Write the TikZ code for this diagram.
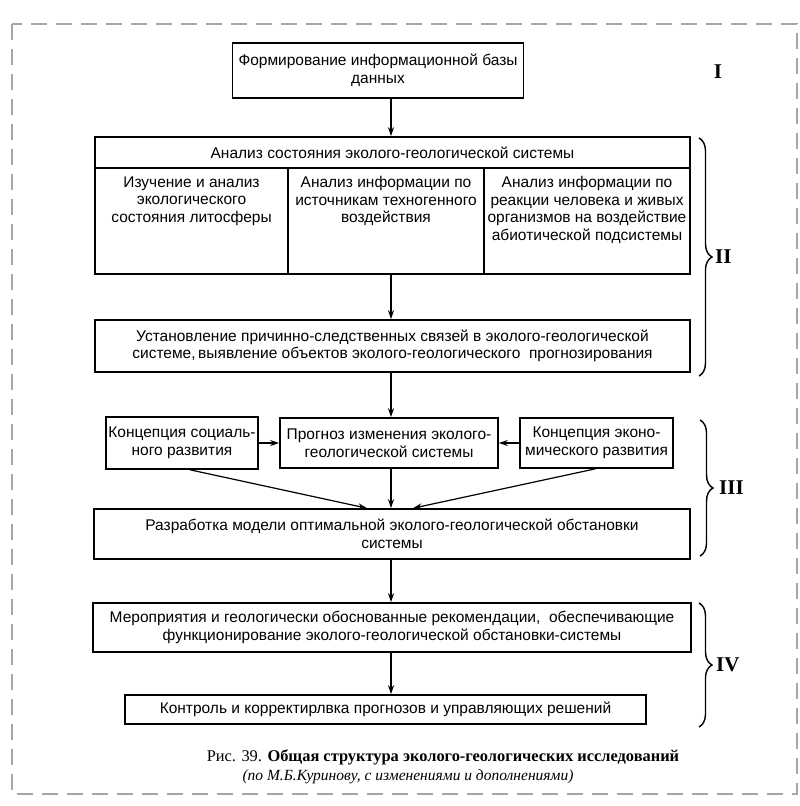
\documentclass[tikz,border=0pt]{standalone}
\usepackage{fontspec}
\setmainfont{Liberation Serif}
\setsansfont{Liberation Sans}
\usetikzlibrary{arrows.meta,decorations.pathreplacing}
\begin{document}
\begin{tikzpicture}[x=1pt,y=-1pt,
  txt/.style={font=\sffamily\fontsize{15.5}{17.5}\selectfont},
  box/.style={draw,line width=1.6pt,align=center,txt,inner sep=0pt},
  cell/.style={draw,line width=1.6pt,inner sep=0pt},
  celltxt/.style={align=center,txt,anchor=north,inner sep=0pt},
  arr/.style={line width=1.2pt,-{Stealth[length=9pt,width=6pt]}},
  brc/.style={decorate,decoration={brace,amplitude=13pt},line width=1.4pt},
  roman/.style={font=\rmfamily\bfseries\fontsize{21}{24}\selectfont,inner sep=0pt},
  frame/.style={draw=black!35,line width=2.2pt,dash pattern=on 16pt off 9pt}]
\useasboundingbox (0,0) rectangle (800,806);
\path[frame] (12,24) rectangle (797,794);

\coordinate (col) at (391,0);

\node[box,minimum width=291pt,minimum height=55pt] (I) at (378,70.5)
  {Формирование информационной базы\\данных};
\node[roman] (lI) at (718,72) {I};

\node[box,minimum width=595pt,minimum height=31pt] (anal) at (392.5,152.5)
  {Анализ состояния эколого-геологической системы};
\node[cell,minimum width=193pt,minimum height=106pt] (c1) at (191.5,221) {};
\node[cell,minimum width=196pt,minimum height=106pt] (c2) at (386,221) {};
\node[cell,minimum width=206pt,minimum height=106pt] (c3) at (587,221) {};
\node[celltxt] (t1) at ([yshift=-9pt]c1.north) {Изучение и анализ\\экологического\\состояния литосферы};
\node[celltxt] (t2) at ([yshift=-9pt]c2.north) {Анализ информации по\\источникам техногенного\\воздействия};
\node[celltxt] (t3) at ([yshift=-9pt]c3.north) {Анализ информации по\\реакции человека и живых\\организмов на воздействие\\абиотической подсистемы};

\node[box,minimum width=595pt,minimum height=52pt] (ust) at (392.5,346)
  {Установление причинно-следственных связей в эколого-геологической\\системе,\,выявление объектов эколого-геологического\ \ прогнозирования};

\node[box,minimum width=152pt,minimum height=52pt] (soc) at (182,443)
  {Концепция социаль-\\ного развития};
\node[box,minimum width=218pt,minimum height=50pt] (prog) at (389,443)
  {Прогноз изменения эколого-\\геологической системы};
\node[box,minimum width=153pt,minimum height=50pt] (eco) at (596.5,443)
  {Концепция эконо-\\мического развития};

\node[box,minimum width=596pt,minimum height=50pt] (raz) at (392,534)
  {Разработка модели оптимальной эколого-геологической обстановки\\системы};

\node[box,minimum width=598pt,minimum height=49pt] (mer) at (392,627.5)
  {Мероприятия и геологически обоснованные рекомендации,\ \ обеспечивающие\\функционирование эколого-геологической обстановки-системы};
\node[box,minimum width=521pt,minimum height=29pt] (kon) at (385.5,709.5)
  {Контроль и корректирлвка прогнозов и управляющих решений};

% arrows
\draw[arr] (I.south -| col) -- (anal.north -| col);
\draw[arr] (c2.south -| col) -- (ust.north -| col);
\draw[arr] (ust.south -| col) -- (prog.north -| col);
\draw[arr] (soc.east) -- (prog.west);
\draw[arr] (eco.west) -- (prog.east);
\draw[arr] ([xshift=8pt]soc.south) -- ([xshift=-25pt]raz.north);
\draw[arr] (prog.south -| col) -- (raz.north -| col);
\draw[arr] ([xshift=-1pt]eco.south) -- ([xshift=21pt]raz.north);
\draw[arr] (raz.south -| col) -- (mer.north -| col);
\draw[arr] (mer.south -| col) -- (kon.north -| col);

% braces
\coordinate (b2t) at (699,138);
\coordinate (b2b) at (699,376);
\draw[brc] (b2t) -- (b2b);
\node[roman,anchor=west] (lII) at (715,257) {II};
\coordinate (b3t) at (700,420);
\coordinate (b3b) at (700,556);
\draw[brc] (b3t) -- (b3b);
\node[roman,anchor=west] (lIII) at (719,488) {III};
\coordinate (b4t) at (699,603);
\coordinate (b4b) at (699,727);
\draw[brc] (b4t) -- (b4b);
\node[roman,anchor=west] (lIV) at (716,665) {IV};

% caption
\node[font=\rmfamily\fontsize{16.4}{18}\selectfont,inner sep=0pt] (cap1) at (443,757)
  {Рис. 39. \textbf{Общая структура эколого-геологических исследований}};
\node[font=\rmfamily\itshape\fontsize{15.5}{18}\selectfont,inner sep=0pt] (cap2) at (408,777)
  {(по М.Б.Куринову, с изменениями и дополнениями)};
\end{tikzpicture}
\end{document}
